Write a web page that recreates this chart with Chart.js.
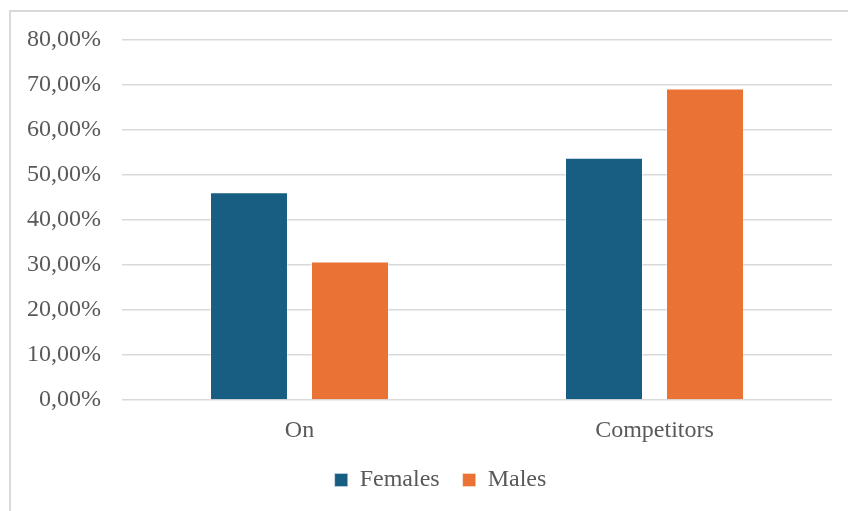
<!DOCTYPE html>
<html>
<head>
<meta charset="utf-8">
<script src="https://cdn.jsdelivr.net/npm/chart.js@4"></script>
<style>
  html, body { margin: 0; padding: 0; background: #fff; overflow: hidden; }
  #frame {
    position: absolute; left: 9px; top: 10px;
    width: 837px; height: 499px;
    border-top: 2px solid #d9d9d9;
    border-left: 2px solid #d9d9d9;
  }
  #frame canvas { display: block; }
</style>
</head>
<body>
<div id="frame"><canvas id="grafico" width="837" height="499"></canvas></div>
<script>
const categorias = ['On', 'Competitors'];
const mujeres = [46.15, 53.85];
const hombres = [30.77, 69.23];
const ticksY = [0, 10, 20, 30, 40, 50, 60, 70, 80];

const fuente = 'Liberation Serif, Times New Roman, serif';

// la leyenda va un poco a la derecha del centro del lienzo
const moverLeyenda = {
    id: 'moverLeyenda',
    afterLayout: function(chart) {
        if (chart.legend) chart.legend.left += 38;
    }
};

document.addEventListener('DOMContentLoaded', function() {
    const ctx = document.getElementById('grafico').getContext('2d');

    new Chart(ctx, {
        type: 'bar',
        data: {
            labels: categorias,
            datasets: [{
                label: 'Females',
                data: mujeres,
                backgroundColor: '#175e82',
                borderColor: 'rgba(255,255,255,0.35)',
                borderWidth: 1
            }, {
                label: 'Males',
                data: hombres,
                backgroundColor: '#e97234',
                borderColor: 'rgba(255,255,255,0.35)',
                borderWidth: 1
            }]
        },
        plugins: [moverLeyenda],
        options: {
            responsive: false,
            animation: false,
            layout: { padding: { top: 28, right: 16, bottom: 9, left: 0 } },
            datasets: {
                bar: { categoryPercentage: 0.569, barPercentage: 0.772 }
            },
            plugins: {
                tooltip: { enabled: false },
                legend: {
                    position: 'bottom',
                    labels: {
                        boxWidth: 13,
                        boxHeight: 13,
                        padding: 23,
                        color: '#595959',
                        font: { family: fuente, size: 24 }
                    }
                }
            },
            scales: {
                x: {
                    afterFit: function(scale) { scale.height = 45; },
                    grid: { display: false, drawTicks: false },
                    border: { display: false },
                    ticks: {
                        color: '#595959',
                        padding: 16,
                        font: { family: fuente, size: 24 }
                    }
                },
                y: {
                    min: 0,
                    max: 80,
                    afterFit: function(scale) {
                        scale.width = 111;
                        scale.paddingTop = 0;
                        scale.paddingBottom = 0;
                    },
                    afterBuildTicks: function(scale) {
                        scale.ticks = ticksY.map(v => ({ value: v }));
                    },
                    grid: { color: '#d9d9d9', lineWidth: 1.5, drawTicks: false },
                    border: { display: false },
                    ticks: {
                        color: '#595959',
                        padding: 21,
                        font: { family: fuente, size: 24 },
                        callback: function(v) {
                            return v.toFixed(2).replace('.', ',') + '%';
                        }
                    }
                }
            }
        }
    });
});
</script>
</body>
</html>
